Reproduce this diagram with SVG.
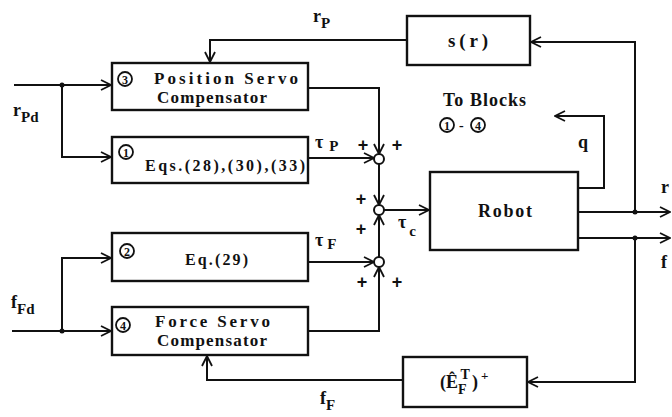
<svg xmlns="http://www.w3.org/2000/svg" width="672" height="417" viewBox="0 0 672 417">
<style>
.box{fill:#fff;stroke:#111;stroke-width:2.4}
.ln{fill:none;stroke:#111;stroke-width:2}
.t{font-family:"Liberation Serif","DejaVu Serif",serif;font-weight:bold;fill:#111}
.num{fill:#fff;stroke:#111;stroke-width:1.8}
.sj{fill:#fff;stroke:#111;stroke-width:2}
.dot{fill:#111}
.p{font-family:"Liberation Sans","DejaVu Sans",sans-serif;font-weight:bold;fill:#111;font-size:18px;text-anchor:middle}
</style>
<defs>
<marker id="a" markerWidth="12" markerHeight="12" refX="11" refY="6" orient="auto" markerUnits="userSpaceOnUse">
<path d="M1,1 L11,6 L1,11" fill="none" stroke="#111" stroke-width="1.8"/>
</marker>
</defs>
<rect width="672" height="417" fill="#fff"/>

<g id="connectors">
<path class="ln" d="M14,85 H111" marker-end="url(#a)"/>
<path class="ln" d="M62,85 V157 H111" marker-end="url(#a)"/>
<path class="ln" d="M12,331 H111" marker-end="url(#a)"/>
<path class="ln" d="M62,331 V258 H111" marker-end="url(#a)"/>
<path class="ln" d="M308,88 H379 V154" marker-end="url(#a)"/>
<path class="ln" d="M308,158 H374" marker-end="url(#a)"/>
<path class="ln" d="M379,164 V205" marker-end="url(#a)"/>
<path class="ln" d="M384,210 H429" marker-end="url(#a)"/>
<path class="ln" d="M308,262 H374" marker-end="url(#a)"/>
<path class="ln" d="M308,331 H379 V267" marker-end="url(#a)"/>
<path class="ln" d="M379,257 V215" marker-end="url(#a)"/>
<path class="ln" d="M578,212 H670" marker-end="url(#a)"/>
<path class="ln" d="M578,238 H670" marker-end="url(#a)"/>
<path class="ln" d="M635,212 V42 H531" marker-end="url(#a)"/>
<path class="ln" d="M407,40 H210 V62" marker-end="url(#a)"/>
<path class="ln" d="M635,238 V382 H528" marker-end="url(#a)"/>
<path class="ln" d="M403,380 H207 V356" marker-end="url(#a)"/>
<path class="ln" d="M578,188 H604 V116 H555" marker-end="url(#a)"/>
<circle class="dot" cx="62" cy="85" r="2.5"/>
<circle class="dot" cx="62" cy="331" r="2.5"/>
<circle class="dot" cx="635" cy="212" r="2.5"/>
<circle class="dot" cx="635" cy="238" r="2.5"/>
</g>

<g id="sum-top"><circle class="sj" cx="379" cy="159" r="5"/>
<text class="p" x="363" y="151">+</text>
<text class="p" x="397" y="151">+</text></g>
<g id="sum-mid"><circle class="sj" cx="379" cy="210" r="5"/>
<text class="p" x="361" y="205">+</text>
<text class="p" x="361" y="235">+</text></g>
<g id="sum-bot"><circle class="sj" cx="379" cy="262" r="5"/>
<text class="p" x="362" y="288">+</text>
<text class="p" x="397" y="288">+</text></g>

<g id="block3">
<rect class="box" x="112" y="63" width="196" height="47"/>
<circle class="num" cx="125" cy="79" r="7"/>
<text class="t" x="125" y="83.5" font-size="12" text-anchor="middle">3</text>
<text class="t" x="154" y="84" font-size="17" textLength="144">Position Servo</text>
<text class="t" x="157" y="103" font-size="17" textLength="110">Compensator</text>
</g>
<g id="block1">
<rect class="box" x="112" y="137" width="196" height="46"/>
<circle class="num" cx="126" cy="152" r="7"/>
<text class="t" x="126" y="156.5" font-size="12" text-anchor="middle">1</text>
<text class="t" x="145" y="171" font-size="16" textLength="160">Eqs.(28),(30),(33)</text>
</g>
<g id="block2">
<rect class="box" x="112" y="233" width="196" height="48"/>
<circle class="num" cx="127" cy="251" r="7"/>
<text class="t" x="127" y="255.5" font-size="12" text-anchor="middle">2</text>
<text class="t" x="185" y="265" font-size="16" textLength="63">Eq.(29)</text>
</g>
<g id="block4">
<rect class="box" x="112" y="307" width="196" height="48"/>
<circle class="num" cx="123" cy="325" r="7"/>
<text class="t" x="123" y="329.5" font-size="12" text-anchor="middle">4</text>
<text class="t" x="155" y="327" font-size="17" textLength="115">Force Servo</text>
<text class="t" x="157" y="346" font-size="17" textLength="110">Compensator</text>
</g>
<g id="robot">
<rect class="box" x="430" y="172" width="148" height="78"/>
<text class="t" x="505" y="217" font-size="18" text-anchor="middle" textLength="54">Robot</text>
</g>
<g id="sr">
<rect class="box" x="407" y="16" width="123" height="49"/>
<text class="t" x="468" y="47" font-size="19" text-anchor="middle" textLength="40">s(r)</text>
</g>
<g id="ef">
<rect class="box" x="403" y="357" width="124" height="50"/>
<text class="t" x="440" y="388" font-size="18">(Ê<tspan font-size="14" dy="6">F</tspan><tspan font-size="14" dx="-6" dy="-15">T</tspan><tspan font-size="18" dx="2" dy="9">)</tspan><tspan font-size="13" dx="3" dy="-8">+</tspan></text>
</g>

<g id="labels">
<text class="t" x="443" y="106" font-size="18" textLength="83">To Blocks</text>
<circle class="num" cx="447" cy="125" r="7"/>
<text class="t" x="447" y="129.5" font-size="12" text-anchor="middle">1</text>
<text class="t" x="459" y="130" font-size="14">-</text>
<circle class="num" cx="478" cy="125" r="7"/>
<text class="t" x="478" y="129.5" font-size="12" text-anchor="middle">4</text>
<text class="t" x="578" y="148" font-size="18">q</text>
<text class="t" x="313" y="22" font-size="18">r<tspan font-size="15" dy="6">P</tspan></text>
<text class="t" x="13" y="116" font-size="18">r<tspan font-size="15" dy="6">Pd</tspan></text>
<text class="t" x="11" y="308" font-size="18">f<tspan font-size="15" dy="6">Fd</tspan></text>
<text class="t" x="315" y="148" font-size="18">τ<tspan font-size="15" dx="6" dy="3">P</tspan></text>
<text class="t" x="315" y="246" font-size="18">τ<tspan font-size="15" dx="4" dy="3">F</tspan></text>
<text class="t" x="398" y="228" font-size="18">τ<tspan font-size="15" dx="3" dy="8">c</tspan></text>
<text class="t" x="320" y="404" font-size="18">f<tspan font-size="15" dy="6">F</tspan></text>
<text class="t" x="661" y="193" font-size="18">r</text>
<text class="t" x="661" y="268" font-size="18">f</text>
</g>
</svg>
